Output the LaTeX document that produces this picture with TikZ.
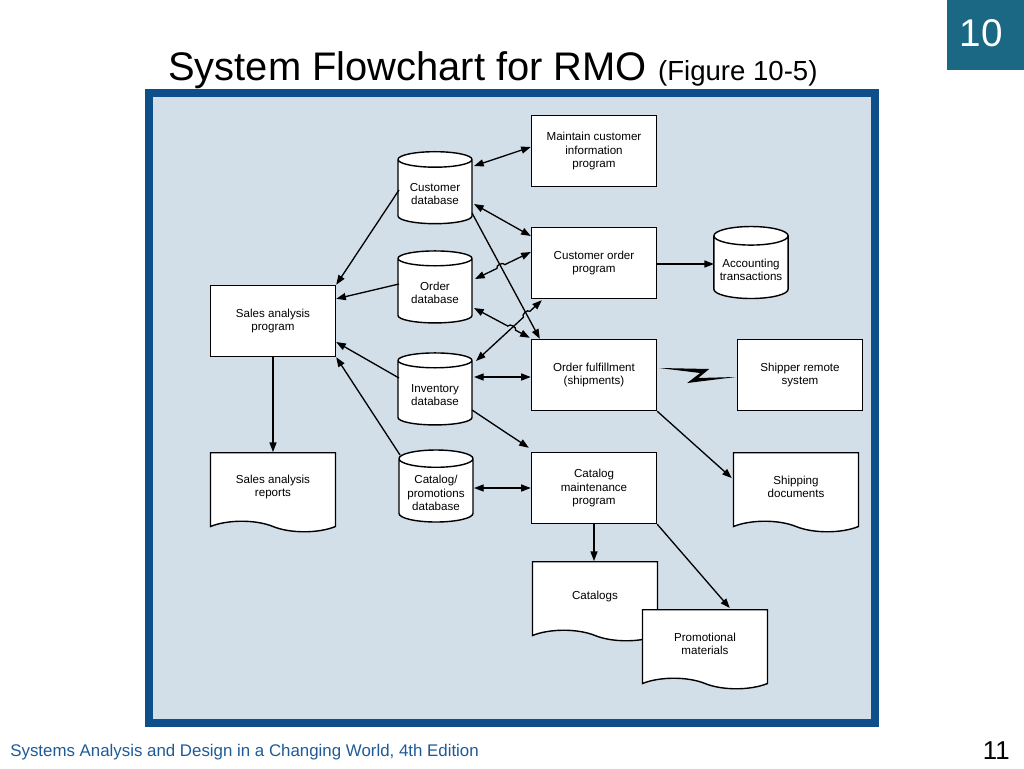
\documentclass[tikz,border=0pt]{standalone}
\usepackage{fontspec}
\setmainfont{Liberation Sans}
\usetikzlibrary{shapes.geometric,shapes.symbols,arrows.meta,calc}

\definecolor{frameblue}{RGB}{14,78,138}
\definecolor{panel}{RGB}{210,222,232}
\definecolor{badge}{RGB}{27,104,133}
\definecolor{footblue}{RGB}{30,90,152}

\tikzset{
    prog/.style={draw, rectangle, fill=white, line width=0.8pt, minimum width=2.5cm, minimum height=1.42cm, align=center, font=\fontsize{6.6}{7.7}\selectfont},
    db/.style={draw, cylinder, shape border rotate=90, aspect=0.25, fill=white, line width=0.8pt, minimum width=1.48cm, minimum height=1.44cm, align=center, font=\fontsize{6.6}{7.7}\selectfont},
    doc/.style={draw, tape, tape bend top=none, tape bend bottom=out and in, tape bend height=6pt, fill=white, line width=0.8pt, minimum width=2.5cm, minimum height=1.58cm, align=center, font=\fontsize{6.6}{7.7}\selectfont},
    flow/.style={-{Triangle[length=5.5pt,width=4pt]}, line width=0.75pt},
    both/.style={{Triangle[length=5.5pt,width=4pt]}-{Triangle[length=5.5pt,width=4pt]}, line width=0.75pt}
}

\begin{document}
\begin{tikzpicture}[x=0.02cm, y=-0.02cm]
    \useasboundingbox (0,0) rectangle (1024,768);

    % frame and headings
    \fill[frameblue] (145,89) rectangle (879,727);
    \fill[panel] (153,97) rectangle (871,719);
    \fill[badge] (947,0) rectangle (1024,70);
    \node[text=white, font=\fontsize{22}{26}\selectfont] (badgeno) at (981,33) {10};
    \node[anchor=base west, inner sep=0, font=\fontsize{22.7}{27}\selectfont] (title) at (168,80) {System Flowchart for RMO {\fontsize{15.7}{18}\selectfont (Figure 10-5)}};
    \node[anchor=base west, inner sep=0, text=footblue, font=\fontsize{9.6}{11}\selectfont] (foot) at (10,756) {Systems Analysis and Design in a Changing World, 4th Edition};
    \node[anchor=base east, inner sep=0, font=\fontsize{14.7}{17}\selectfont] (pgno) at (1010,759) {11};

    % programs
    \node[prog] (mcp) at (594,151) {Maintain customer\\information\\program};
    \node[prog] (cop) at (594,263) {Customer order\\program};
    \node[prog] (sap) at (273,321) {Sales analysis\\program};
    \node[prog] (ofp) at (594,375) {Order fulfillment\\(shipments)};
    \node[prog] (srs) at (800,375) {Shipper remote\\system};
    \node[prog] (cmp) at (594,488) {Catalog\\maintenance\\program};

    % databases
    \node[db] (cdb) at (435,194) {Customer\\database};
    \node[db] (odb) at (435,293) {Order\\database};
    \node[db] (idb) at (435,395) {Inventory\\database};
    \node[db] (cpdb) at (436,493) {Catalog/\\promotions\\database};
    \node[db] (acc) at (751,270) {Accounting\\transactions};

    % documents
    \node[doc] (sar) at (273,487) {Sales analysis\\reports};
    \node[doc] (shd) at (796,487) {Shipping\\documents};
    \node[doc] (cat) at (595,596) {Catalogs};
    \node[doc] (prm) at (705,644) {Promotional\\materials};

    % end points of the crossing lines
    \coordinate (lgA) at ($(cdb.center)+(37,19)$);
    \coordinate (lgB) at ($(ofp.north west)+(9,0)$);
    \coordinate (ocA) at ($(odb.center)+(40,-14)$);
    \coordinate (ocB) at ($(cop.west)+(0,-11)$);
    \coordinate (icA) at ($(idb.center)+(41,-34)$);
    \coordinate (icB) at ($(cop.south west)+(11,1)$);
    \coordinate (ofA) at ($(odb.center)+(39,15)$);
    \coordinate (ofB) at ($(ofp.north west)+(-1,-1)$);
    \coordinate (h1) at (intersection of ocA--ocB and lgA--lgB);
    \coordinate (h2) at (intersection of icA--icB and lgA--lgB);
    \coordinate (h3) at (intersection of ofA--ofB and icA--icB);

    \draw[both] ($(cdb.center)+(39,-28)$) -- ($(mcp.west)+(0,-4)$);
    \draw[both] ($(cdb.center)+(39,10)$) -- ($(cop.west)+(0,-27)$);
    \draw[flow] (lgA) -- (lgB);
    \draw[both] (ocA) -- ($(h1)!2.5pt!(ocA)$) to[bend left=90] ($(h1)!2.5pt!(ocB)$) -- (ocB);
    \draw[both] (icA) -- ($(h2)!2.5pt!(icA)$) to[bend left=90] ($(h2)!2.5pt!(icB)$) -- (icB);
    \draw[both] (ofA) -- ($(h3)!2.5pt!(ofA)$) to[bend left=90] ($(h3)!2.5pt!(ofB)$) -- (ofB);
    \draw[both] ($(idb.center)+(39,-18)$) -- ($(ofp.west)+(0,2)$);
    \draw[flow] ($(idb.center)+(37,15)$) -- ($(cmp.north west)+(-2,-4)$);
    \draw[both] ($(cpdb.center)+(38,-5)$) -- (cmp.west);

    \draw[flow] ($(cdb.center)+(-36,-4)$) -- (sap.north east);
    \draw[flow] ($(odb.center)+(-36,-9)$) -- ($(sap.north east)+(0,14)$);
    \draw[flow] ($(idb.center)+(-36,-17)$) -- ($(sap.east)+(0,21)$);
    \draw[flow] ($(cpdb.center)+(-36,-38)$) -- (sap.south east);
    \draw[flow] (sap.south) -- (sar.north);

    \draw[flow] ($(cop.east)+(0,1)$) -- ($(acc.center)+(-37,-6)$);
    \fill ($(ofp.east)+(2,-7)$) -- ($(ofp.east)+(52,-6)$) -- ($(ofp.east)+(41,3)$)
        -- ($(srs.west)+(-1,2)$) -- ($(ofp.east)+(30,8)$) -- ($(ofp.east)+(43,-2)$) -- cycle;
    \draw[flow] (ofp.south east) -- ($(shd.north west)+(-1,26)$);
    \draw[flow] (cmp.south) -- (cmp.south |- cat.north);
    \draw[flow] (cmp.south east) -- ($(prm.north west)+(88,-1)$);
\end{tikzpicture}
\end{document}
